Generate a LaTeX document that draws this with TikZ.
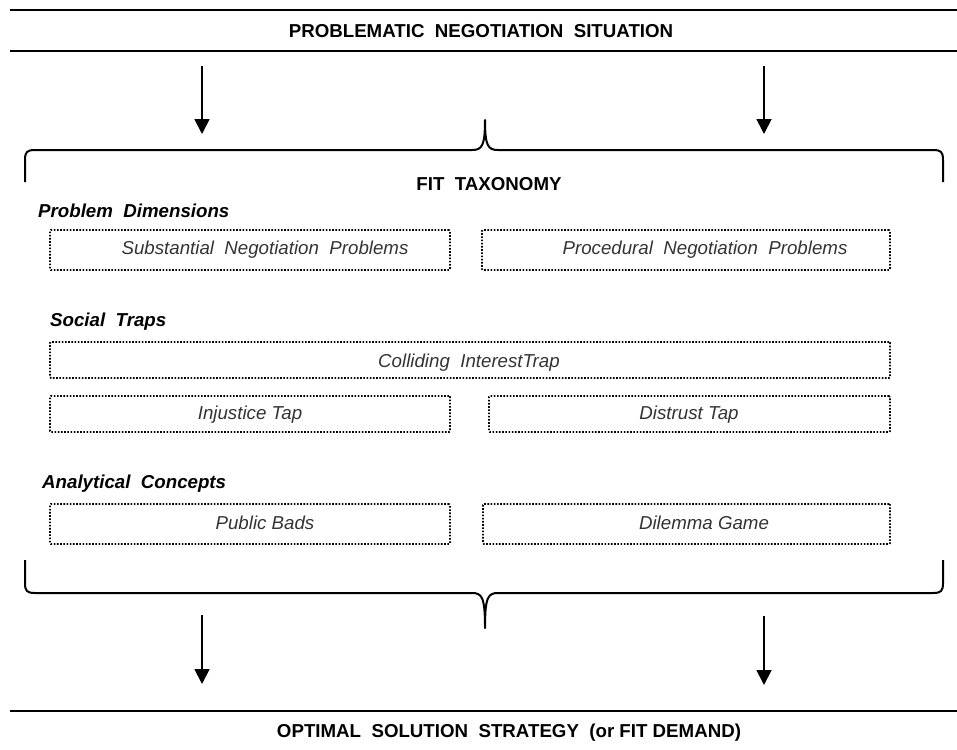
\documentclass[tikz,border=0pt]{standalone}
\usepackage{fontspec}
\setmainfont{Liberation Sans}
\usetikzlibrary{arrows.meta}
\begin{document}
\begin{tikzpicture}[x=1pt,y=-1pt,
  rule/.style={line width=2pt},
  bracepath/.style={line width=2pt, line join=round},
  flow/.style={line width=1.8pt,-{Triangle[length=15pt,width=15pt]}},
  title/.style={font=\fontsize{18.7}{22}\selectfont\bfseries, inner sep=0pt},
  heading/.style={font=\fontsize{18.7}{22}\selectfont\bfseries\itshape, inner sep=0pt, anchor=west},
  dotbox/.style={draw, line width=1.8pt, dash pattern=on 1.6pt off 1.6pt, inner sep=0pt, rounded corners=1pt},
  itext/.style={font=\fontsize{18.7}{22}\selectfont\itshape, text=black!80, inner sep=0pt}
]
\useasboundingbox (0,0) rectangle (957,749);
% top title
\coordinate (t1a) at (10,10); \coordinate (t1b) at (957,10);
\coordinate (t2a) at (10,51); \coordinate (t2b) at (957,51);
\draw[rule] (t1a) -- (t1b);
\draw[rule] (t2a) -- (t2b);
\node[title] (top) at (481,31) {PROBLEMATIC\ \ NEGOTIATION\ \ SITUATION};
% top arrows
\coordinate (a1s) at (202,66); \coordinate (a1e) at (202,134);
\coordinate (a2s) at (764,66); \coordinate (a2e) at (764,134);
\draw[flow] (a1s) -- (a1e);
\draw[flow] (a2s) -- (a2e);
% top brace
\draw[bracepath] (25,182) -- (25,160) .. controls (25,152) and (27,150) .. (35,150)
  -- (472,150) .. controls (482,150) and (485,146) .. (485,120)
  .. controls (485,146) and (488,150) .. (498,150)
  -- (933,150) .. controls (941,150) and (943,152) .. (943,160) -- (943,182);
\node[title] (fit) at (489,184) {FIT\ \ TAXONOMY};
% Problem dimensions
\node[heading] (h1) at (38,211) {Problem\ \ Dimensions};
\node[dotbox, minimum width=400pt, minimum height=40pt] (b1) at (250,250) {};
\node[itext] (b1t) at (265,250) {Substantial\ \ Negotiation\ \ Problems};
\node[dotbox, minimum width=408pt, minimum height=40pt] (b2) at (686,250) {};
\node[itext] (b2t) at (705,250) {Procedural\ \ Negotiation\ \ Problems};
% Social traps
\node[heading] (h2) at (50,322) {Social\ \ Traps};
\node[dotbox, minimum width=840pt, minimum height=36pt] (b3) at (470,360) {};
\node[itext] (b3t) at (469,363) {Colliding\ \ InterestTrap};
\node[dotbox, minimum width=400pt, minimum height=36pt] (b4) at (250,414) {};
\node[itext] (b4t) at (250,415) {Injustice Tap};
\node[dotbox, minimum width=401pt, minimum height=36pt] (b5) at (689.5,414) {};
\node[itext] (b5t) at (689,415) {Distrust Tap};
% Analytical concepts
\node[heading] (h3) at (42,484) {Analytical\ \ Concepts};
\node[dotbox, minimum width=400pt, minimum height=40pt] (b6) at (250,524) {};
\node[itext] (b6t) at (265,523) {Public Bads};
\node[dotbox, minimum width=407pt, minimum height=40pt] (b7) at (686.5,524) {};
\node[itext] (b7t) at (704,523) {Dilemma Game};
% bottom brace
\draw[bracepath] (25,560) -- (25,583) .. controls (25,591) and (27,593) .. (35,593)
  -- (472,593) .. controls (482,593) and (485,597) .. (485,628)
  .. controls (485,597) and (488,593) .. (498,593)
  -- (933,593) .. controls (941,593) and (943,591) .. (943,583) -- (943,560);
% bottom arrows
\coordinate (a3s) at (202,615); \coordinate (a3e) at (202,684);
\coordinate (a4s) at (764,616); \coordinate (a4e) at (764,685);
\draw[flow] (a3s) -- (a3e);
\draw[flow] (a4s) -- (a4e);
% bottom title
\coordinate (t3a) at (10,711); \coordinate (t3b) at (957,711);
\draw[rule] (t3a) -- (t3b);
\node[title] (bot) at (509,733) {OPTIMAL\ \ SOLUTION\ \ STRATEGY\ \ (or FIT DEMAND)};
\end{tikzpicture}
\end{document}
